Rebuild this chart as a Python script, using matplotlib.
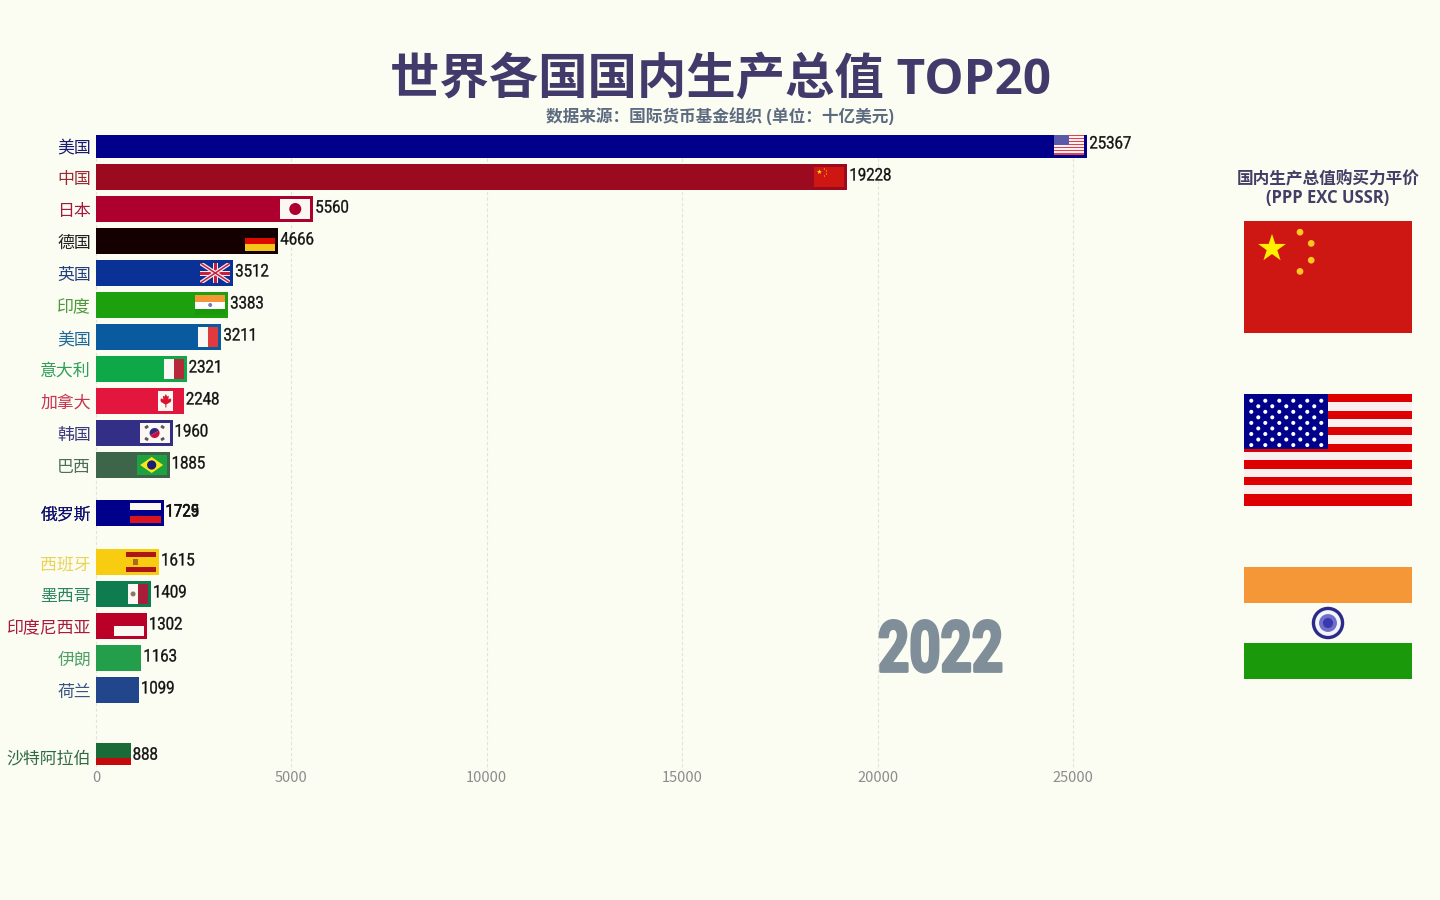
import matplotlib
matplotlib.use('Agg')
import matplotlib.pyplot as plt
import numpy as np
from matplotlib.patches import Rectangle, Circle, Polygon, Wedge
from matplotlib.patheffects import AbstractPathEffect
from matplotlib.transforms import Affine2D

plt.rcParams['font.family'] = ['Noto Sans CJK SC', 'DejaVu Sans']

names = ['美国', '中国', '日本', '德国', '英国', '印度', '美国', '意大利', '加拿大', '韩国', '巴西',
         '俄罗斯', '俄罗斯', '西班牙', '墨西哥', '印度尼西亚', '伊朗', '荷兰', '沙特阿拉伯']
values = [25367, 19228, 5560, 4666, 3512, 3383, 3211, 2321, 2248, 1960, 1885,
          1729, 1725, 1615, 1409, 1302, 1163, 1099, 888]
ranks = [0, 1, 2, 3, 4, 5, 6, 7, 8, 9, 10, 11.5, 11.5, 13.03, 14.03, 15.03, 16.03, 17.03, 19.1]
colors = ['#00008B', '#9B0A1E', '#AD002F', '#140000', '#0A3296', '#1CA00E', '#0A5AA0', '#0EA848',
          '#E3173E', '#332F86', '#3D654A', '#00008B', '#00008B', '#F8CC10', '#0E7C4F', '#BB0027',
          '#239F4B', '#21468B', '#1A6B38']
label_colors = ['#1A1A70', '#9B2A35', '#A01A40', '#222222', '#23407F', '#4C9A3C', '#1F6A9A', '#2F9F5A',
                '#C8334F', '#3C3A80', '#4A6F55', '#101070', '#101070', '#EBD258', '#2B8460', '#A81A3C',
                '#4FA068', '#3A5585', '#2F6A45']
flags = ['us', 'cn', 'jp', 'de', 'uk', 'in', 'fr', 'it', 'ca', 'kr', 'br',
         'ru', 'ru', 'es', 'mx', 'id', None, None, None]
xticks = [0, 5000, 10000, 15000, 20000, 25000]
side_flags = ['cn', 'us', 'in']

BG = '#FBFCF2'
W, H = 1440, 900
PX_PER_UNIT = (1073 - 96) / 25000
BOLD_FONT = ['Open Sans', 'Noto Sans CJK SC', 'DejaVu Sans']


class Condense(AbstractPathEffect):
    # squeeze text sideways (no narrow font here), left edge stays put
    def __init__(self, sx, stroke=0.0):
        super().__init__()
        self.sx = sx
        self.stroke = stroke

    def draw_path(self, renderer, gc, tpath, affine, rgbFace=None):
        tr = Affine2D().scale(self.sx, 1) + affine
        gc0 = renderer.new_gc()
        gc0.copy_properties(gc)
        if self.stroke > 0:
            gc0.set_foreground(rgbFace)
            gc0.set_linewidth(self.stroke)
        else:
            gc0.set_linewidth(0)
        renderer.draw_path(gc0, tpath, tr, rgbFace)
        gc0.restore()


def flag_bg(ax, color):
    ax.add_patch(Rectangle((0, 0), 3, 2, color=color, lw=0))


def rect(ax, x, y, w, h, color):
    ax.add_patch(Rectangle((x, y), w, h, color=color, lw=0))


# flags are drawn in a 3x2 box, y going down
def draw_flag(ax, code, bar_col, wpx):
    small = wpx < 100
    if code == 'us':
        flag_bg(ax, '#FBF0F0')
        sh = 2 / 13.5
        for i in range(7):
            rect(ax, 0, i * 2 * sh, 3, sh if i < 6 else 2 - 12 * sh, '#E04050' if small else '#DE0000')
        if small:
            rect(ax, 0, 0, 1.5, 0.98, '#5A5AA8')
        else:
            rect(ax, 0, 0, 1.5, 0.98, '#00008B')
            for row in range(9):
                n = 6 if row % 2 == 0 else 5
                for c in range(n):
                    x = 0.13 + 0.25 * c + (0.125 if row % 2 else 0)
                    y = 0.12 + 0.099 * row
                    ax.add_patch(Circle((x, y), 0.036, color='white', lw=0))
    elif code == 'cn':
        flag_bg(ax, '#CE1713')
        ang = np.pi / 2 + np.arange(10) * np.pi / 5
        r = np.where(np.arange(10) % 2 == 0, 0.26, 0.1)
        ax.add_patch(Polygon(np.c_[0.5 + r * np.cos(ang), 0.49 - r * np.sin(ang)], color='#FFF000', lw=0))
        for x, y in [(1.0, 0.2), (1.2, 0.4), (1.2, 0.7), (1.0, 0.9)]:
            ax.add_patch(Circle((x, y), 0.06, color='#FFC820', lw=0))
    elif code == 'in':
        rect(ax, 0, 0, 3, 0.65, '#F59737')
        rect(ax, 0, 0.65, 3, 0.7, 'white' if small else BG)
        rect(ax, 0, 1.35, 3, 0.65, '#1A9A0A')
        if small:
            ax.add_patch(Circle((1.5, 1.0), 0.2, color='#7A7AB8', lw=0))
        else:
            ax.add_patch(Circle((1.5, 1.0), 0.29, color='#2A2A8A', lw=0))
            ax.add_patch(Circle((1.5, 1.0), 0.23, color='#F4F4FA', lw=0))
            ax.add_patch(Circle((1.5, 1.0), 0.16, color='#7070C8', lw=0))
            ax.add_patch(Circle((1.5, 1.0), 0.09, color='#3A3AB0', lw=0))
    elif code == 'jp':
        flag_bg(ax, '#FBF8F4')
        ax.add_patch(Circle((1.5, 1), 0.6, color=bar_col, lw=0))
    elif code == 'de':
        rect(ax, 0, 0.67, 3, 0.67, '#DD0A00')
        rect(ax, 0, 1.33, 3, 0.67, '#F5C518')
    elif code == 'uk':
        lw = wpx * 0.72 / 3
        ax.plot([0, 3], [0, 2], color='#F4E8F0', lw=lw * 0.4)
        ax.plot([0, 3], [2, 0], color='#F4E8F0', lw=lw * 0.4)
        ax.plot([0, 3], [0, 2], color='#C8203C', lw=lw * 0.15)
        ax.plot([0, 3], [2, 0], color='#C8203C', lw=lw * 0.15)
        rect(ax, 1.25, 0, 0.5, 2, '#F4E8F0')
        rect(ax, 0, 0.75, 3, 0.5, '#F4E8F0')
        rect(ax, 1.35, 0, 0.3, 2, '#C8203C')
        rect(ax, 0, 0.85, 3, 0.3, '#C8203C')
    elif code == 'fr':
        rect(ax, 1, 0, 1, 2, '#FBF8F4')
        rect(ax, 2, 0, 1, 2, '#E03A3E')
    elif code == 'it':
        rect(ax, 1, 0, 1, 2, '#FBF8F4')
        rect(ax, 2, 0, 1, 2, '#B5293B')
    elif code == 'ca':
        rect(ax, 0.75, 0, 1.5, 2, '#FBF8F4')
        leaf = [(1.5, 0.3), (1.63, 0.55), (1.8, 0.48), (1.75, 0.85), (1.95, 0.72), (2.05, 0.9), (1.98, 1.1),
                (1.55, 1.35), (1.55, 1.65), (1.45, 1.65), (1.45, 1.35), (1.02, 1.1), (0.95, 0.9), (1.05, 0.72),
                (1.25, 0.85), (1.2, 0.48), (1.37, 0.55)]
        ax.add_patch(Polygon(leaf, color='#D8142F', lw=0))
    elif code == 'kr':
        flag_bg(ax, '#FBF8F4')
        ax.add_patch(Wedge((1.5, 1), 0.5, 150, 330, color='#2F2A80', lw=0))
        ax.add_patch(Wedge((1.5, 1), 0.5, 330, 150, color='#C8103C', lw=0))
        lw = wpx * 0.72 / 3
        for x0, y0, dx, dy in [(0.55, 0.5, 0.3, -0.2), (2.15, 0.3, 0.3, 0.2),
                               (0.55, 1.5, 0.3, 0.2), (2.15, 1.7, 0.3, -0.2)]:
            ax.plot([x0, x0 + dx], [y0, y0 + dy], color='#555555', lw=lw * 0.28, solid_capstyle='butt')
    elif code == 'br':
        flag_bg(ax, '#1DA23F')
        ax.add_patch(Polygon([(0.35, 1), (1.5, 0.2), (2.65, 1), (1.5, 1.8)], color='#F8E71C', lw=0))
        ax.add_patch(Circle((1.5, 1), 0.46, color='#1B1E72', lw=0))
    elif code == 'ru':
        rect(ax, 0, 0, 3, 0.67, '#FBF8F4')
        rect(ax, 0, 1.33, 3, 0.67, '#D8141E')
    elif code == 'es':
        rect(ax, 0, 0, 3, 0.55, '#AD1519')
        rect(ax, 0, 1.5, 3, 0.5, '#AD1519')
        rect(ax, 0.7, 0.75, 0.45, 0.55, '#A86A20')
    elif code == 'mx':
        rect(ax, 1, 0, 1, 2, '#FBF8F4')
        rect(ax, 2, 0, 1, 2, '#A81E3A')
        ax.add_patch(Circle((1.5, 1), 0.25, color='#8A7A60', lw=0))
    elif code == 'id':
        rect(ax, 0, 1, 3, 1, '#FBF8F4')


def flag_axes(fig, xpx, ypx, wpx, hpx, code, bar_col):
    # xpx, ypx = left / top from the figure's top left corner
    a = fig.add_axes([xpx / W, 1 - (ypx + hpx) / H, wpx / W, hpx / H], zorder=5)
    a.set_xlim(0, 3)
    a.set_ylim(2, 0)
    a.axis('off')
    draw_flag(a, code, bar_col, wpx)


def main():
    fig = plt.figure(figsize=(14.4, 9), dpi=100, facecolor=BG)
    left, right, top, bottom = 96, 1200, 135, 765
    ax = fig.add_axes([left / W, 1 - bottom / H, (right - left) / W, (bottom - top) / H], facecolor=BG)
    ax.set_xlim(0, (right - left) / PX_PER_UNIT)
    ax.set_ylim((bottom - 145) / 32, (top - 145) / 32)
    for s in ax.spines.values():
        s.set_visible(False)

    ax.barh(ranks, values, height=0.81, color=colors, zorder=3)
    # saudi bar has a red strip along the bottom
    ax.barh([19.27], [values[-1]], height=0.22, color='#C40A0A', zorder=4)

    ymax = ax.get_ylim()[0]
    for x in xticks:
        ax.plot([x, x], [0.4, ymax + 5 / 32], color='#E2E4D8', lw=0.8, ls=(0, (3, 2)), zorder=1, clip_on=False)
    ax.set_xticks(xticks)
    ax.set_xticklabels([str(x) for x in xticks])
    ax.set_yticks([])
    ax.tick_params(axis='x', length=0, pad=4.2, labelsize=10.5, labelcolor='#8C8C8C')

    for n, v, r, lc in zip(names, values, ranks, label_colors):
        ax.annotate(n, (0, r), xytext=(-5, -2), textcoords='offset pixels', ha='right', va='center',
                    fontsize=12.2, color=lc, annotation_clip=False)
        t = ax.annotate(str(v), (v, r), xytext=(2, 1), textcoords='offset pixels', ha='left', va='center',
                        fontsize=12.5, color='#111111', family=['Roboto', 'DejaVu Sans'], annotation_clip=False)
        t.set_path_effects([Condense(0.86, 0.25)])

    for v, r, code, c in zip(values, ranks, flags, colors):
        if code is None:
            continue
        xd, yd = ax.transData.transform((v, r))
        flag_axes(fig, xd - 33, H - yd - 10, 30, 20, code, c)

    fig.text(720 / W, 1 - 81 / H, '世界各国国内生产总值 TOP20', ha='center', va='center',
             fontsize=35.6, fontweight='bold', color='#423A6A', family=BOLD_FONT)
    fig.text(720 / W, 1 - 117 / H, '数据来源：国际货币基金组织 (单位：十亿美元)', ha='center', va='center',
             fontsize=12, fontweight='bold', color='#5D6B80', family=BOLD_FONT)
    fig.text(1328 / W, 1 - 179 / H, '国内生产总值购买力平价', ha='center', va='center',
             fontsize=12, fontweight='bold', color='#443D66', family=BOLD_FONT)
    fig.text(1328 / W, 1 - 198 / H, '(PPP EXC USSR)', ha='center', va='center',
             fontsize=12, fontweight='bold', color='#443D66', family=BOLD_FONT)
    yr = fig.text(878 / W, 1 - 652 / H, '2022', ha='left', va='center', fontsize=51, fontweight='bold',
                  color='#7F8E98', family=['Roboto', 'DejaVu Sans'])
    yr.set_path_effects([Condense(0.77, 2.0)])

    for code, ypx in zip(side_flags, [221, 394, 567]):
        flag_axes(fig, 1244, ypx, 168, 112, code, '#CE1713')

    fig.savefig('out.png', dpi=100, facecolor=BG)


if __name__ == "__main__":
    main()
